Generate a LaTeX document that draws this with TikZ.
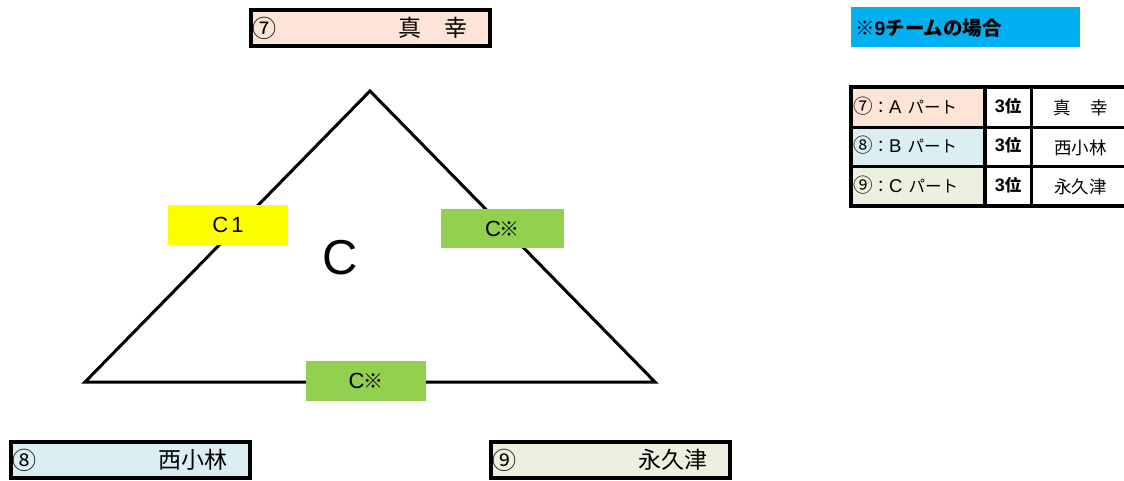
\documentclass[tikz,border=0pt]{standalone}
\usepackage{fontspec}
\setmainfont{Noto Sans CJK JP}
\newfontfamily\lat{Liberation Sans}
\definecolor{pinkc}{HTML}{FCE4D6}
\definecolor{bluec}{HTML}{DAEEF3}
\definecolor{greenc}{HTML}{EBF1DE}
\definecolor{headc}{HTML}{00B0F0}
\definecolor{yelc}{HTML}{FFFF00}
\definecolor{grnc}{HTML}{92D050}
\newcommand{\circn}[1]{{\fontsize{19.5}{19.5}\selectfont #1}}
\newcommand{\latl}[1]{{\lat\fontsize{18.5}{18.5}\selectfont #1}}
\tikzset{
  namebox/.style={draw=black, line width=4pt, minimum width=239pt, minimum height=36pt, inner sep=0pt},
  lblbox/.style={minimum width=120pt, minimum height=40pt, inner sep=0pt, font=\fontsize{20}{20}\selectfont},
  cell/.style={minimum height=40pt, inner sep=0pt},
  numtxt/.style={font=\fontsize{24}{24}\selectfont, anchor=west, inner sep=0pt},
  nametxt/.style={font=\fontsize{23}{23}\selectfont, inner sep=0pt},
  celltxt/.style={font=\fontsize{16.5}{16.5}\selectfont, inner sep=0pt},
  tri/.style={line width=3pt, line join=miter},
  thickl/.style={line width=4pt},
  thinl/.style={line width=3pt}
}
\begin{document}
\begin{tikzpicture}[x=1pt,y=-1pt]
\useasboundingbox (0,0) rectangle (1124,481);
% triangle
\coordinate (apex) at (370,91);
\coordinate (bl) at (85,382);
\coordinate (br) at (655,382);
\draw[tri] (apex) -- (bl) -- (br) -- cycle;
% labels on triangle
\node[lblbox, fill=yelc] (c1) at (228,225) {{\lat\fontsize{22}{22}\selectfont C\hspace{3pt}1}};
\node[lblbox, fill=grnc, minimum width=123pt, minimum height=39pt] (cr) at (502.5,228.5) {{\lat\fontsize{22}{22}\selectfont C}\hspace{-1pt}※};
\node[lblbox, fill=grnc] (cb) at (366,381) {{\lat\fontsize{22}{22}\selectfont C}\hspace{-1pt}※};
\node[font=\lat\fontsize{49}{49}\selectfont, inner sep=0pt] (bigc) at (340,258) {C};
% name boxes
\node[namebox, fill=pinkc] (top) at (370.5,28) {};
\node[numtxt] (topn) at ([xshift=3pt]top.west) {⑦};
\node[nametxt] (topname) at (433,28) {真　幸};
\node[namebox, fill=bluec] (left) at (130.5,460) {};
\node[numtxt] (leftn) at ([xshift=3pt]left.west) {⑧};
\node[nametxt] (leftname) at (193,460) {西小林};
\node[namebox, fill=greenc] (right) at (610.5,460) {};
\node[numtxt] (rightn) at ([xshift=3pt]right.west) {⑨};
\node[nametxt] (rightname) at (673,460) {永久津};
% header
\node[fill=headc, minimum width=229pt, minimum height=40pt, inner sep=0pt] (head) at (965.5,27.5) {};
\node[font=\fontsize{19.5}{19.5}\selectfont\bfseries, anchor=west, inner sep=0pt] (headt) at (855,28) {※{\lat\bfseries 9}チームの場合};
% table cells
\node[cell, fill=pinkc, minimum width=134pt] (a1) at (918,107) {};
\node[cell, fill=bluec, minimum width=134pt, minimum height=39pt] (b1) at (918,146.5) {};
\node[cell, fill=greenc, minimum width=134pt] (c1c) at (918,186) {};
\node[cell, minimum width=46pt] (a2) at (1008,107) {};
\node[cell, minimum width=46pt, minimum height=39pt] (b2) at (1008,146.5) {};
\node[cell, minimum width=46pt] (c2) at (1008,186) {};
\node[cell, minimum width=95pt] (a3) at (1078.5,107) {};
\node[cell, minimum width=95pt, minimum height=39pt] (b3) at (1078.5,146.5) {};
\node[cell, minimum width=95pt] (c3) at (1078.5,186) {};
% table text
\node[celltxt, anchor=west] (a1t) at (853,106) {\circn{⑦}：\latl{A}\hspace{6pt}パート};
\node[celltxt, anchor=west] (b1t) at (853,145) {\circn{⑧}：\latl{B}\hspace{6pt}パート};
\node[celltxt, anchor=west] (c1t) at (853,185) {\circn{⑨}：\latl{C}\hspace{6pt}パート};
\node[celltxt, font=\fontsize{16.5}{16.5}\selectfont\bfseries] (a2t) at ([yshift=1pt]a2) {{\lat\bfseries\fontsize{18}{18}\selectfont 3}位};
\node[celltxt, font=\fontsize{16.5}{16.5}\selectfont\bfseries] (b2t) at ([yshift=1pt]b2) {{\lat\bfseries\fontsize{18}{18}\selectfont 3}位};
\node[celltxt, font=\fontsize{16.5}{16.5}\selectfont\bfseries] (c2t) at ([yshift=1pt]c2) {{\lat\bfseries\fontsize{18}{18}\selectfont 3}位};
\node[celltxt, font=\fontsize{17.5}{17.5}\selectfont] (a3t) at ([xshift=2pt,yshift=-1pt]a3) {真\hspace{20pt}幸};
\node[celltxt, font=\fontsize{17.5}{17.5}\selectfont] (b3t) at ([xshift=2pt,yshift=-1pt]b3) {西小林};
\node[celltxt, font=\fontsize{17.5}{17.5}\selectfont] (c3t) at ([xshift=2pt,yshift=-1pt]c3) {永久津};
% table grid
\draw[thickl] ([xshift=-2pt]a1.north west) -- ([xshift=4pt]a3.north east);
\draw[thickl] (a1.north west) -- (c1c.south west);
\draw[thickl] ([xshift=-2pt]c1c.south west) -- ([xshift=4pt]c3.south east);
\draw[thickl] (a1.north east) -- (c1c.south east);
\draw[thinl] (a2.north east) -- (c2.south east);
\draw[thinl] (a1.south west) -- ([xshift=4pt]a3.south east);
\draw[thinl] (b1.south west) -- ([xshift=4pt]b3.south east);
\end{tikzpicture}
\end{document}
